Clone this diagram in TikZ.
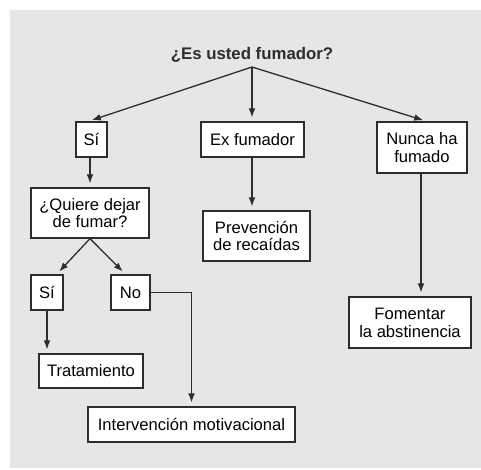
\documentclass[tikz,border=0pt]{standalone}
\usepackage{fontspec}
\setmainfont{Liberation Sans}
\usepackage{tikz}
\usetikzlibrary{arrows.meta,positioning,shapes}
\definecolor{panel}{RGB}{230,230,232}
\definecolor{ink}{RGB}{45,45,45}

\begin{document}
\begin{tikzpicture}[x = .5pt, y = -.5pt, style={font=\fontsize{8.3}{8.9}\selectfont},
  box/.style={draw=ink, fill=white, line width=.6pt, inner sep=0pt, align=center},
  arr/.style={draw=ink, line width=.65pt, -{Latex[length=4.5pt,width=3.4pt]}, shorten >=2pt}]
\useasboundingbox (0,0) rectangle (481,470);
% Grey panel
\fill[panel] (10,10) rectangle (481,468);
% Question
\node[font=\fontsize{8.4}{9}\selectfont\bfseries, text=ink] (quest) at (252,55) {¿Es usted fumador?};
\coordinate (fork) at (252,67);
% First level
\node[box, minimum width=15.5pt, minimum height=17.5pt] (si) at (91.5,139.5) {Sí};
\node[box, minimum width=51.5pt, minimum height=17.5pt] (exfum) at (252.5,139.5) {Ex fumador};
\node[box, minimum width=45pt, minimum height=25.5pt] (nunca) at (422,147.5) {Nunca ha\\fumado};
\draw[arr] (fork) -- ([xshift=-1.75pt]si.north);
\draw[arr] (fork) -- (exfum.north -| fork);
\draw[arr] (fork) -- ([xshift=2.5pt]nunca.north);
% Second level
\node[box, minimum width=59pt, minimum height=25pt] (quiere) at (90,213) {¿Quiere dejar\\de fumar?};
\node[box, minimum width=53.5pt, minimum height=25pt] (prev) at (256.5,236) {Prevención\\de recaídas};
\node[box, minimum width=61pt, minimum height=25.5pt] (fomen) at (410,322.5) {Fomentar\\la abstinencia};
\draw[arr] ([xshift=-.75pt]si.south) -- ([xshift=-.75pt]si.south |- quiere.north);
\draw[arr] (exfum.south -| fork) -- (prev.north -| fork);
\draw[arr] ([xshift=-.5pt]nunca.south) -- ([xshift=-.5pt]nunca.south |- fomen.north);
% Answers
\node[box, minimum width=16pt, minimum height=17.5pt] (si2) at (47,292.5) {Sí};
\node[box, minimum width=19.5pt, minimum height=17.5pt] (no) at (130.5,292.5) {No};
\draw[arr] (quiere.south) -- ([xshift=4.75pt]si2.north);
\draw[arr] (quiere.south) -- ([xshift=-2.5pt]no.north);
% Actions
\node[box, minimum width=52pt, minimum height=17pt] (trat) at (91,371) {Tratamiento};
\node[box, minimum width=103.5pt, minimum height=17.5pt] (interv) at (191.5,424.5) {Intervención motivacional};
\draw[arr] (si2.south) -- (si2.south |- trat.north);
\draw[arr] (no.east) -| (interv.north);
\end{tikzpicture}
\end{document}
